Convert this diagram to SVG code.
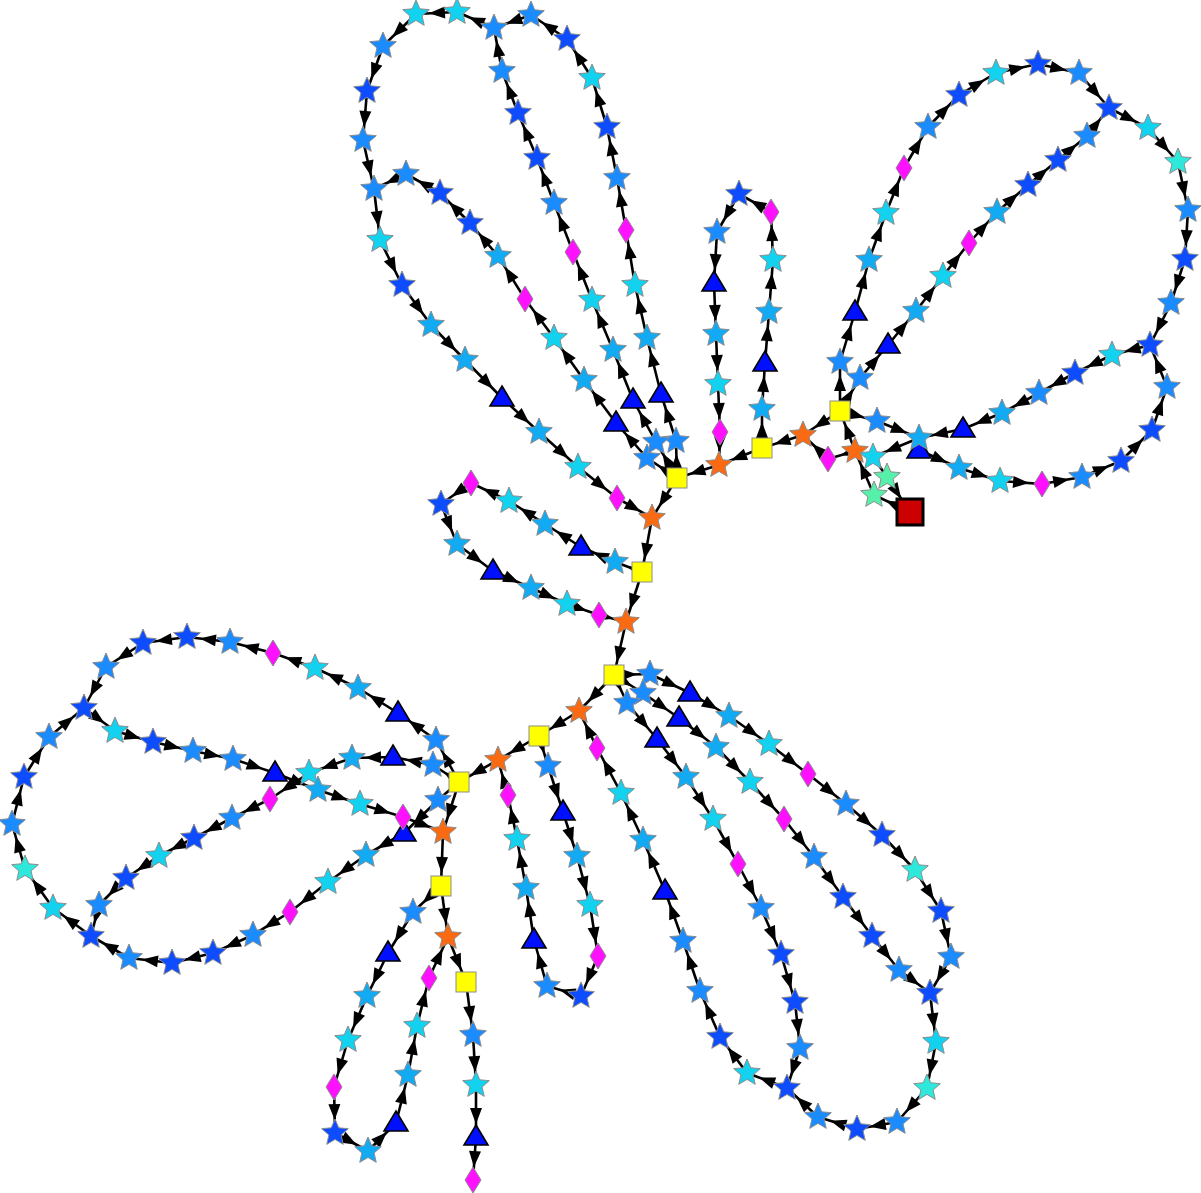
<svg xmlns="http://www.w3.org/2000/svg" xmlns:xlink="http://www.w3.org/1999/xlink" width="1201" height="1193" viewBox="0 0 1201 1193">
<style>
.e line{stroke:#000;stroke-width:2.6;marker-end:url(#ah)}
.e line.r{marker-end:url(#ah2)}
.s1{fill:#1a8cff}.s2{fill:#0d4dff}.s3{fill:#12d2f0}.s4{fill:#12aaf2}.s5{fill:#2ee8dc}.s6{fill:#55f0aa}.so{fill:#fa6a12}
</style>
<defs>
<marker id="ah" viewBox="0 0 16 12" refX="29" refY="6" markerWidth="16" markerHeight="12" markerUnits="userSpaceOnUse" orient="auto" overflow="visible"><path d="M0,0L16,6L0,12z" fill="#000"/></marker>
<marker id="ah2" viewBox="0 0 16 12" refX="32" refY="6" markerWidth="16" markerHeight="12" markerUnits="userSpaceOnUse" orient="auto" overflow="visible"><path d="M0,0L16,6L0,12z" fill="#000"/></marker>
<path id="st" d="M0,-14L3.76,-5.18L13.31,-4.33L6.09,1.98L8.23,11.33L0,6.4L-8.23,11.33L-6.09,1.98L-13.31,-4.33L-3.76,-5.18Z" stroke="#8c8c8c" stroke-width="1"/>
<path id="dm" d="M0,-13L8,0L0,13L-8,0Z" fill="#ff10ff" stroke="#8c8c8c" stroke-width="1"/>
<path id="tr" d="M0,-12L12,8L-12,8Z" fill="#0010ff" stroke="#000" stroke-width="1.6"/>
<rect id="sq" x="-10" y="-10" width="20" height="20" fill="#ffff00" stroke="#8c8c8c" stroke-width="1"/>
</defs>
<rect width="1201" height="1193" fill="#fff"/>
<g id="connectors" class="e">
<line x1="677" y1="478" x2="647" y2="458"/>
<line x1="677" y1="478" x2="656" y2="442"/>
<line x1="677" y1="478" x2="676" y2="441"/>
<line x1="677" y1="478" x2="652" y2="518"/>
<line x1="676" y1="441" x2="661" y2="394"/>
<line x1="661" y1="394" x2="647" y2="338"/>
<line x1="647" y1="338" x2="635" y2="285"/>
<line x1="635" y1="285" x2="626" y2="230"/>
<line x1="626" y1="230" x2="617" y2="178"/>
<line x1="617" y1="178" x2="607" y2="127"/>
<line x1="607" y1="127" x2="592" y2="78"/>
<line x1="592" y1="78" x2="567" y2="39"/>
<line x1="567" y1="39" x2="531" y2="15"/>
<line x1="531" y1="15" x2="494" y2="28"/>
<line x1="656" y1="442" x2="633" y2="400"/>
<line x1="633" y1="400" x2="613" y2="350"/>
<line x1="613" y1="350" x2="592" y2="300"/>
<line x1="592" y1="300" x2="573" y2="252"/>
<line x1="573" y1="252" x2="554" y2="203"/>
<line x1="554" y1="203" x2="537" y2="158"/>
<line x1="537" y1="158" x2="518" y2="113"/>
<line x1="518" y1="113" x2="502" y2="71"/>
<line x1="502" y1="71" x2="494" y2="28"/>
<line x1="494" y1="28" x2="457" y2="12"/>
<line x1="457" y1="12" x2="416" y2="14"/>
<line x1="416" y1="14" x2="383" y2="46"/>
<line x1="383" y1="46" x2="367" y2="91"/>
<line x1="367" y1="91" x2="363" y2="140"/>
<line x1="363" y1="140" x2="374" y2="189"/>
<line x1="374" y1="189" x2="380" y2="240"/>
<line x1="380" y1="240" x2="402" y2="285"/>
<line x1="402" y1="285" x2="431" y2="325"/>
<line x1="431" y1="325" x2="465" y2="360"/>
<line x1="465" y1="360" x2="502" y2="398"/>
<line x1="502" y1="398" x2="539" y2="432"/>
<line x1="539" y1="432" x2="578" y2="467"/>
<line x1="578" y1="467" x2="617" y2="498"/>
<line x1="617" y1="498" x2="652" y2="518"/>
<line x1="647" y1="458" x2="616" y2="423"/>
<line x1="616" y1="423" x2="584" y2="380"/>
<line x1="584" y1="380" x2="554" y2="338"/>
<line x1="554" y1="338" x2="525" y2="299"/>
<line x1="525" y1="299" x2="498" y2="256"/>
<line x1="498" y1="256" x2="470" y2="223"/>
<line x1="470" y1="223" x2="440" y2="193"/>
<line x1="440" y1="193" x2="406" y2="174"/>
<line x1="406" y1="174" x2="374" y2="189"/>
<line x1="652" y1="518" x2="642" y2="572"/>
<line x1="719" y1="465" x2="677" y2="478"/>
<line x1="720" y1="432" x2="719" y2="465"/>
<line x1="718" y1="384" x2="720" y2="432"/>
<line x1="716" y1="334" x2="718" y2="384"/>
<line x1="714" y1="283" x2="716" y2="334"/>
<line x1="717" y1="232" x2="714" y2="283"/>
<line x1="739" y1="194" x2="717" y2="232"/>
<line x1="771" y1="212" x2="739" y2="194"/>
<line x1="773" y1="260" x2="771" y2="212"/>
<line x1="769" y1="312" x2="773" y2="260"/>
<line x1="765" y1="363" x2="769" y2="312"/>
<line x1="762" y1="409" x2="765" y2="363"/>
<line x1="762" y1="448" x2="762" y2="409"/>
<line x1="762" y1="448" x2="719" y2="465"/>
<line x1="803" y1="435" x2="762" y2="448"/>
<line x1="840" y1="411" x2="803" y2="435"/>
<line x1="828" y1="459" x2="803" y2="435"/>
<line x1="855" y1="451" x2="828" y2="459"/>
<line x1="855" y1="451" x2="840" y2="411"/>
<line x1="874" y1="495" x2="855" y2="451"/>
<line x1="910" y1="512" x2="874" y2="495"/>
<line class="r" x1="887" y1="477" x2="910" y2="512"/>
<line x1="873" y1="457" x2="887" y2="477"/>
<line x1="919" y1="438" x2="873" y2="457"/>
<line x1="877" y1="421" x2="919" y2="438"/>
<line x1="840" y1="411" x2="877" y2="421"/>
<line x1="963" y1="429" x2="919" y2="438"/>
<line x1="840" y1="411" x2="840" y2="362"/>
<line x1="840" y1="411" x2="860" y2="378"/>
<line x1="840" y1="362" x2="855" y2="312"/>
<line x1="855" y1="312" x2="869" y2="260"/>
<line x1="869" y1="260" x2="886" y2="213"/>
<line x1="886" y1="213" x2="904" y2="168"/>
<line x1="904" y1="168" x2="928" y2="127"/>
<line x1="928" y1="127" x2="959" y2="95"/>
<line x1="959" y1="95" x2="996" y2="73"/>
<line x1="996" y1="73" x2="1038" y2="64"/>
<line x1="1038" y1="64" x2="1079" y2="73"/>
<line x1="1079" y1="73" x2="1109" y2="108"/>
<line x1="1109" y1="108" x2="1148" y2="128"/>
<line x1="1148" y1="128" x2="1178" y2="162"/>
<line x1="1178" y1="162" x2="1188" y2="210"/>
<line x1="1188" y1="210" x2="1185" y2="259"/>
<line x1="1185" y1="259" x2="1171" y2="303"/>
<line x1="1171" y1="303" x2="1150" y2="345"/>
<line x1="1150" y1="345" x2="1112" y2="355"/>
<line x1="1112" y1="355" x2="1075" y2="373"/>
<line x1="1075" y1="373" x2="1039" y2="393"/>
<line x1="1039" y1="393" x2="1002" y2="413"/>
<line x1="1002" y1="413" x2="963" y2="429"/>
<line x1="860" y1="378" x2="888" y2="345"/>
<line x1="888" y1="345" x2="916" y2="311"/>
<line x1="916" y1="311" x2="943" y2="276"/>
<line x1="943" y1="276" x2="969" y2="243"/>
<line x1="969" y1="243" x2="997" y2="212"/>
<line x1="997" y1="212" x2="1028" y2="185"/>
<line x1="1028" y1="185" x2="1058" y2="160"/>
<line x1="1058" y1="160" x2="1087" y2="136"/>
<line x1="1087" y1="136" x2="1109" y2="108"/>
<line x1="919" y1="450" x2="959" y2="468"/>
<line x1="959" y1="468" x2="1000" y2="481"/>
<line x1="1000" y1="481" x2="1042" y2="484"/>
<line x1="1042" y1="484" x2="1082" y2="477"/>
<line x1="1082" y1="477" x2="1121" y2="461"/>
<line x1="1121" y1="461" x2="1152" y2="430"/>
<line x1="1152" y1="430" x2="1167" y2="387"/>
<line x1="1167" y1="387" x2="1150" y2="345"/>
<line x1="642" y1="572" x2="615" y2="562"/>
<line x1="615" y1="562" x2="581" y2="547"/>
<line x1="581" y1="547" x2="545" y2="524"/>
<line x1="545" y1="524" x2="509" y2="501"/>
<line x1="509" y1="501" x2="471" y2="483"/>
<line x1="471" y1="483" x2="441" y2="504"/>
<line x1="441" y1="504" x2="457" y2="544"/>
<line x1="457" y1="544" x2="493" y2="571"/>
<line x1="493" y1="571" x2="531" y2="588"/>
<line x1="531" y1="588" x2="567" y2="604"/>
<line x1="567" y1="604" x2="599" y2="615"/>
<line x1="599" y1="615" x2="626" y2="622"/>
<line x1="642" y1="572" x2="626" y2="622"/>
<line x1="626" y1="622" x2="614" y2="675"/>
<line x1="614" y1="675" x2="579" y2="711"/>
<line x1="614" y1="675" x2="650" y2="674"/>
<line x1="614" y1="675" x2="643" y2="693"/>
<line x1="614" y1="675" x2="627" y2="703"/>
<line x1="650" y1="674" x2="690" y2="693"/>
<line x1="690" y1="693" x2="729" y2="716"/>
<line x1="729" y1="716" x2="769" y2="744"/>
<line x1="769" y1="744" x2="808" y2="774"/>
<line x1="808" y1="774" x2="846" y2="804"/>
<line x1="846" y1="804" x2="882" y2="835"/>
<line x1="882" y1="835" x2="915" y2="870"/>
<line x1="915" y1="870" x2="941" y2="911"/>
<line x1="941" y1="911" x2="951" y2="957"/>
<line x1="951" y1="957" x2="930" y2="993"/>
<line x1="643" y1="693" x2="679" y2="718"/>
<line x1="679" y1="718" x2="716" y2="747"/>
<line x1="716" y1="747" x2="750" y2="782"/>
<line x1="750" y1="782" x2="784" y2="819"/>
<line x1="784" y1="819" x2="814" y2="857"/>
<line x1="814" y1="857" x2="843" y2="897"/>
<line x1="843" y1="897" x2="872" y2="936"/>
<line x1="872" y1="936" x2="899" y2="970"/>
<line x1="899" y1="970" x2="930" y2="993"/>
<line x1="930" y1="993" x2="936" y2="1042"/>
<line x1="936" y1="1042" x2="927" y2="1088"/>
<line x1="927" y1="1088" x2="897" y2="1122"/>
<line x1="897" y1="1122" x2="857" y2="1129"/>
<line x1="857" y1="1129" x2="818" y2="1117"/>
<line x1="818" y1="1117" x2="787" y2="1088"/>
<line x1="787" y1="1088" x2="747" y2="1073"/>
<line x1="747" y1="1073" x2="720" y2="1037"/>
<line x1="720" y1="1037" x2="700" y2="991"/>
<line x1="700" y1="991" x2="683" y2="941"/>
<line x1="683" y1="941" x2="665" y2="891"/>
<line x1="665" y1="891" x2="643" y2="840"/>
<line x1="643" y1="840" x2="621" y2="793"/>
<line x1="621" y1="793" x2="597" y2="748"/>
<line x1="597" y1="748" x2="579" y2="711"/>
<line x1="627" y1="703" x2="657" y2="739"/>
<line x1="657" y1="739" x2="686" y2="777"/>
<line x1="686" y1="777" x2="713" y2="819"/>
<line x1="713" y1="819" x2="738" y2="864"/>
<line x1="738" y1="864" x2="761" y2="908"/>
<line x1="761" y1="908" x2="781" y2="954"/>
<line x1="781" y1="954" x2="795" y2="1002"/>
<line x1="795" y1="1002" x2="800" y2="1048"/>
<line x1="800" y1="1048" x2="787" y2="1088"/>
<line x1="579" y1="711" x2="539" y2="736"/>
<line x1="539" y1="736" x2="498" y2="760"/>
<line x1="539" y1="736" x2="548" y2="766"/>
<line x1="548" y1="766" x2="563" y2="812"/>
<line x1="563" y1="812" x2="577" y2="856"/>
<line x1="577" y1="856" x2="590" y2="905"/>
<line x1="590" y1="905" x2="598" y2="956"/>
<line x1="598" y1="956" x2="581" y2="996"/>
<line x1="581" y1="996" x2="547" y2="986"/>
<line x1="547" y1="986" x2="534" y2="940"/>
<line x1="534" y1="940" x2="526" y2="888"/>
<line x1="526" y1="888" x2="517" y2="839"/>
<line x1="517" y1="839" x2="508" y2="795"/>
<line x1="508" y1="795" x2="498" y2="760"/>
<line x1="498" y1="760" x2="459" y2="782"/>
<line x1="459" y1="782" x2="436" y2="740"/>
<line x1="459" y1="782" x2="433" y2="765"/>
<line x1="459" y1="782" x2="438" y2="800"/>
<line x1="459" y1="782" x2="443" y2="832"/>
<line x1="436" y1="740" x2="398" y2="713"/>
<line x1="398" y1="713" x2="358" y2="688"/>
<line x1="358" y1="688" x2="315" y2="668"/>
<line x1="315" y1="668" x2="273" y2="653"/>
<line x1="273" y1="653" x2="230" y2="642"/>
<line x1="230" y1="642" x2="187" y2="637"/>
<line x1="187" y1="637" x2="143" y2="643"/>
<line x1="143" y1="643" x2="106" y2="667"/>
<line x1="106" y1="667" x2="84" y2="708"/>
<line x1="84" y1="708" x2="115" y2="731"/>
<line x1="115" y1="731" x2="153" y2="742"/>
<line x1="153" y1="742" x2="193" y2="751"/>
<line x1="193" y1="751" x2="233" y2="759"/>
<line x1="233" y1="759" x2="275" y2="773"/>
<line x1="275" y1="773" x2="318" y2="790"/>
<line x1="318" y1="790" x2="360" y2="804"/>
<line x1="360" y1="804" x2="403" y2="817"/>
<line x1="403" y1="817" x2="443" y2="832"/>
<line x1="433" y1="765" x2="393" y2="757"/>
<line x1="393" y1="757" x2="352" y2="758"/>
<line x1="352" y1="758" x2="309" y2="773"/>
<line x1="309" y1="773" x2="270" y2="799"/>
<line x1="270" y1="799" x2="232" y2="818"/>
<line x1="232" y1="818" x2="194" y2="838"/>
<line x1="194" y1="838" x2="159" y2="856"/>
<line x1="159" y1="856" x2="126" y2="878"/>
<line x1="126" y1="878" x2="99" y2="905"/>
<line x1="99" y1="905" x2="91" y2="936"/>
<line x1="438" y1="800" x2="404" y2="833"/>
<line x1="404" y1="833" x2="366" y2="855"/>
<line x1="366" y1="855" x2="328" y2="882"/>
<line x1="328" y1="882" x2="290" y2="912"/>
<line x1="290" y1="912" x2="253" y2="935"/>
<line x1="253" y1="935" x2="213" y2="953"/>
<line x1="213" y1="953" x2="172" y2="963"/>
<line x1="172" y1="963" x2="129" y2="958"/>
<line x1="129" y1="958" x2="91" y2="936"/>
<line x1="91" y1="936" x2="53" y2="908"/>
<line x1="53" y1="908" x2="25" y2="869"/>
<line x1="25" y1="869" x2="12" y2="824"/>
<line x1="12" y1="824" x2="24" y2="777"/>
<line x1="24" y1="777" x2="49" y2="737"/>
<line x1="49" y1="737" x2="84" y2="708"/>
<line x1="443" y1="832" x2="441" y2="886"/>
<line x1="441" y1="886" x2="413" y2="912"/>
<line x1="413" y1="912" x2="388" y2="953"/>
<line x1="388" y1="953" x2="367" y2="996"/>
<line x1="367" y1="996" x2="348" y2="1040"/>
<line x1="348" y1="1040" x2="334" y2="1087"/>
<line x1="334" y1="1087" x2="335" y2="1133"/>
<line x1="335" y1="1133" x2="368" y2="1151"/>
<line x1="368" y1="1151" x2="396" y2="1123"/>
<line x1="396" y1="1123" x2="408" y2="1075"/>
<line x1="408" y1="1075" x2="417" y2="1026"/>
<line x1="417" y1="1026" x2="429" y2="978"/>
<line x1="429" y1="978" x2="448" y2="937"/>
<line x1="441" y1="886" x2="448" y2="937"/>
<line x1="448" y1="937" x2="466" y2="982"/>
<line x1="466" y1="982" x2="473" y2="1035"/>
<line x1="473" y1="1035" x2="476" y2="1085"/>
<line x1="476" y1="1085" x2="476" y2="1137"/>
<line x1="476" y1="1137" x2="473" y2="1180"/>
</g>
<g id="nodes">
<g id="n1"><use href="#st" class="s3" x="416" y="14"/></g>
<g id="n2"><use href="#st" class="s3" x="457" y="12"/></g>
<g id="n3"><use href="#st" class="s1" x="494" y="28"/></g>
<g id="n4"><use href="#st" class="s1" x="531" y="15"/></g>
<g id="n5"><use href="#st" class="s2" x="567" y="39"/></g>
<g id="n6"><use href="#st" class="s3" x="592" y="78"/></g>
<g id="n7"><use href="#st" class="s2" x="607" y="127"/></g>
<g id="n8"><use href="#st" class="s1" x="617" y="178"/></g>
<g id="n9"><use href="#dm" x="626" y="230"/></g>
<g id="n10"><use href="#st" class="s3" x="635" y="285"/></g>
<g id="n11"><use href="#st" class="s4" x="647" y="338"/></g>
<g id="n12"><use href="#tr" x="661" y="394"/></g>
<g id="n13"><use href="#st" class="s1" x="676" y="441"/></g>
<g id="n14"><use href="#st" class="s1" x="383" y="46"/></g>
<g id="n15"><use href="#st" class="s2" x="367" y="91"/></g>
<g id="n16"><use href="#st" class="s1" x="363" y="140"/></g>
<g id="n17"><use href="#st" class="s1" x="374" y="189"/></g>
<g id="n18"><use href="#st" class="s3" x="380" y="240"/></g>
<g id="n19"><use href="#st" class="s2" x="402" y="285"/></g>
<g id="n20"><use href="#st" class="s4" x="431" y="325"/></g>
<g id="n21"><use href="#st" class="s4" x="465" y="360"/></g>
<g id="n22"><use href="#tr" x="502" y="398"/></g>
<g id="n23"><use href="#st" class="s4" x="539" y="432"/></g>
<g id="n24"><use href="#st" class="s3" x="578" y="467"/></g>
<g id="n25"><use href="#dm" x="617" y="498"/></g>
<g id="n26"><use href="#st" class="so" x="652" y="518"/></g>
<g id="n27"><use href="#st" class="s1" x="406" y="174"/></g>
<g id="n28"><use href="#st" class="s2" x="440" y="193"/></g>
<g id="n29"><use href="#st" class="s2" x="470" y="223"/></g>
<g id="n30"><use href="#st" class="s4" x="498" y="256"/></g>
<g id="n31"><use href="#dm" x="525" y="299"/></g>
<g id="n32"><use href="#st" class="s3" x="554" y="338"/></g>
<g id="n33"><use href="#st" class="s4" x="584" y="380"/></g>
<g id="n34"><use href="#tr" x="616" y="423"/></g>
<g id="n35"><use href="#st" class="s1" x="647" y="458"/></g>
<g id="n36"><use href="#st" class="s1" x="502" y="71"/></g>
<g id="n37"><use href="#st" class="s2" x="518" y="113"/></g>
<g id="n38"><use href="#st" class="s2" x="537" y="158"/></g>
<g id="n39"><use href="#st" class="s1" x="554" y="203"/></g>
<g id="n40"><use href="#dm" x="573" y="252"/></g>
<g id="n41"><use href="#st" class="s3" x="592" y="300"/></g>
<g id="n42"><use href="#st" class="s4" x="613" y="350"/></g>
<g id="n43"><use href="#tr" x="633" y="400"/></g>
<g id="n44"><use href="#st" class="s1" x="656" y="442"/></g>
<g id="n45"><use href="#sq" x="677" y="478"/></g>
<g id="n46"><use href="#st" class="s2" x="739" y="194"/></g>
<g id="n47"><use href="#dm" x="771" y="212"/></g>
<g id="n48"><use href="#st" class="s1" x="717" y="232"/></g>
<g id="n49"><use href="#tr" x="714" y="283"/></g>
<g id="n50"><use href="#st" class="s4" x="716" y="334"/></g>
<g id="n51"><use href="#st" class="s3" x="718" y="384"/></g>
<g id="n52"><use href="#dm" x="720" y="432"/></g>
<g id="n53"><use href="#st" class="so" x="719" y="465"/></g>
<g id="n54"><use href="#st" class="s3" x="773" y="260"/></g>
<g id="n55"><use href="#st" class="s4" x="769" y="312"/></g>
<g id="n56"><use href="#tr" x="765" y="363"/></g>
<g id="n57"><use href="#st" class="s4" x="762" y="409"/></g>
<g id="n58"><use href="#sq" x="762" y="448"/></g>
<g id="n59"><use href="#st" class="so" x="803" y="435"/></g>
<g id="n60"><use href="#sq" x="840" y="411"/></g>
<g id="n61"><use href="#dm" x="828" y="459"/></g>
<g id="n62"><use href="#st" class="so" x="855" y="451"/></g>
<g id="n63"><use href="#st" class="s3" x="873" y="457"/></g>
<g id="n64"><use href="#st" class="s6" x="887" y="477"/></g>
<g id="n65"><use href="#st" class="s6" x="874" y="495"/></g>
<g id="n66"><rect x="897" y="499" width="26" height="26" fill="#cc0000" stroke="#000" stroke-width="3"/></g>
<g id="n67"><use href="#st" class="s1" x="877" y="421"/></g>
<g id="n68"><use href="#tr" x="919" y="450"/></g>
<g id="n69"><use href="#st" class="s4" x="919" y="438"/></g>
<g id="n70"><use href="#st" class="s1" x="840" y="362"/></g>
<g id="n71"><use href="#tr" x="855" y="312"/></g>
<g id="n72"><use href="#st" class="s4" x="869" y="260"/></g>
<g id="n73"><use href="#st" class="s3" x="886" y="213"/></g>
<g id="n74"><use href="#dm" x="904" y="168"/></g>
<g id="n75"><use href="#st" class="s1" x="928" y="127"/></g>
<g id="n76"><use href="#st" class="s2" x="959" y="95"/></g>
<g id="n77"><use href="#st" class="s3" x="996" y="73"/></g>
<g id="n78"><use href="#st" class="s2" x="1038" y="64"/></g>
<g id="n79"><use href="#st" class="s1" x="1079" y="73"/></g>
<g id="n80"><use href="#st" class="s2" x="1109" y="108"/></g>
<g id="n81"><use href="#st" class="s3" x="1148" y="128"/></g>
<g id="n82"><use href="#st" class="s5" x="1178" y="162"/></g>
<g id="n83"><use href="#st" class="s1" x="1188" y="210"/></g>
<g id="n84"><use href="#st" class="s2" x="1185" y="259"/></g>
<g id="n85"><use href="#st" class="s1" x="1171" y="303"/></g>
<g id="n86"><use href="#st" class="s2" x="1150" y="345"/></g>
<g id="n87"><use href="#st" class="s3" x="1112" y="355"/></g>
<g id="n88"><use href="#st" class="s2" x="1075" y="373"/></g>
<g id="n89"><use href="#st" class="s1" x="1039" y="393"/></g>
<g id="n90"><use href="#st" class="s4" x="1002" y="413"/></g>
<g id="n91"><use href="#tr" x="963" y="429"/></g>
<g id="n92"><use href="#st" class="s1" x="860" y="378"/></g>
<g id="n93"><use href="#tr" x="888" y="345"/></g>
<g id="n94"><use href="#st" class="s4" x="916" y="311"/></g>
<g id="n95"><use href="#st" class="s3" x="943" y="276"/></g>
<g id="n96"><use href="#dm" x="969" y="243"/></g>
<g id="n97"><use href="#st" class="s4" x="997" y="212"/></g>
<g id="n98"><use href="#st" class="s2" x="1028" y="185"/></g>
<g id="n99"><use href="#st" class="s2" x="1058" y="160"/></g>
<g id="n100"><use href="#st" class="s1" x="1087" y="136"/></g>
<g id="n101"><use href="#st" class="s4" x="959" y="468"/></g>
<g id="n102"><use href="#st" class="s3" x="1000" y="481"/></g>
<g id="n103"><use href="#dm" x="1042" y="484"/></g>
<g id="n104"><use href="#st" class="s1" x="1082" y="477"/></g>
<g id="n105"><use href="#st" class="s2" x="1121" y="461"/></g>
<g id="n106"><use href="#st" class="s2" x="1152" y="430"/></g>
<g id="n107"><use href="#st" class="s1" x="1167" y="387"/></g>
<g id="n108"><use href="#dm" x="471" y="483"/></g>
<g id="n109"><use href="#st" class="s2" x="441" y="504"/></g>
<g id="n110"><use href="#st" class="s4" x="457" y="544"/></g>
<g id="n111"><use href="#tr" x="493" y="571"/></g>
<g id="n112"><use href="#st" class="s4" x="531" y="588"/></g>
<g id="n113"><use href="#st" class="s3" x="567" y="604"/></g>
<g id="n114"><use href="#dm" x="599" y="615"/></g>
<g id="n115"><use href="#st" class="so" x="626" y="622"/></g>
<g id="n116"><use href="#st" class="s3" x="509" y="501"/></g>
<g id="n117"><use href="#st" class="s4" x="545" y="524"/></g>
<g id="n118"><use href="#tr" x="581" y="547"/></g>
<g id="n119"><use href="#st" class="s4" x="615" y="562"/></g>
<g id="n120"><use href="#sq" x="642" y="572"/></g>
<g id="n121"><use href="#sq" x="614" y="675"/></g>
<g id="n122"><use href="#st" class="so" x="579" y="711"/></g>
<g id="n123"><use href="#sq" x="539" y="736"/></g>
<g id="n124"><use href="#st" class="so" x="498" y="760"/></g>
<g id="n125"><use href="#sq" x="459" y="782"/></g>
<g id="n126"><use href="#st" class="s1" x="650" y="674"/></g>
<g id="n127"><use href="#tr" x="690" y="693"/></g>
<g id="n128"><use href="#st" class="s4" x="729" y="716"/></g>
<g id="n129"><use href="#st" class="s3" x="769" y="744"/></g>
<g id="n130"><use href="#dm" x="808" y="774"/></g>
<g id="n131"><use href="#st" class="s1" x="846" y="804"/></g>
<g id="n132"><use href="#st" class="s2" x="882" y="835"/></g>
<g id="n133"><use href="#st" class="s5" x="915" y="870"/></g>
<g id="n134"><use href="#st" class="s2" x="941" y="911"/></g>
<g id="n135"><use href="#st" class="s1" x="951" y="957"/></g>
<g id="n136"><use href="#st" class="s2" x="930" y="993"/></g>
<g id="n137"><use href="#st" class="s1" x="643" y="693"/></g>
<g id="n138"><use href="#tr" x="679" y="718"/></g>
<g id="n139"><use href="#st" class="s4" x="716" y="747"/></g>
<g id="n140"><use href="#st" class="s3" x="750" y="782"/></g>
<g id="n141"><use href="#dm" x="784" y="819"/></g>
<g id="n142"><use href="#st" class="s1" x="814" y="857"/></g>
<g id="n143"><use href="#st" class="s2" x="843" y="897"/></g>
<g id="n144"><use href="#st" class="s2" x="872" y="936"/></g>
<g id="n145"><use href="#st" class="s1" x="899" y="970"/></g>
<g id="n146"><use href="#st" class="s3" x="936" y="1042"/></g>
<g id="n147"><use href="#st" class="s5" x="927" y="1088"/></g>
<g id="n148"><use href="#st" class="s1" x="897" y="1122"/></g>
<g id="n149"><use href="#st" class="s2" x="857" y="1129"/></g>
<g id="n150"><use href="#st" class="s1" x="818" y="1117"/></g>
<g id="n151"><use href="#st" class="s2" x="787" y="1088"/></g>
<g id="n152"><use href="#st" class="s3" x="747" y="1073"/></g>
<g id="n153"><use href="#st" class="s2" x="720" y="1037"/></g>
<g id="n154"><use href="#st" class="s1" x="700" y="991"/></g>
<g id="n155"><use href="#st" class="s1" x="683" y="941"/></g>
<g id="n156"><use href="#tr" x="665" y="891"/></g>
<g id="n157"><use href="#st" class="s4" x="643" y="840"/></g>
<g id="n158"><use href="#st" class="s3" x="621" y="793"/></g>
<g id="n159"><use href="#dm" x="597" y="748"/></g>
<g id="n160"><use href="#st" class="s1" x="627" y="703"/></g>
<g id="n161"><use href="#tr" x="657" y="739"/></g>
<g id="n162"><use href="#st" class="s4" x="686" y="777"/></g>
<g id="n163"><use href="#st" class="s3" x="713" y="819"/></g>
<g id="n164"><use href="#dm" x="738" y="864"/></g>
<g id="n165"><use href="#st" class="s1" x="761" y="908"/></g>
<g id="n166"><use href="#st" class="s2" x="781" y="954"/></g>
<g id="n167"><use href="#st" class="s2" x="795" y="1002"/></g>
<g id="n168"><use href="#st" class="s1" x="800" y="1048"/></g>
<g id="n169"><use href="#st" class="s1" x="548" y="766"/></g>
<g id="n170"><use href="#tr" x="563" y="812"/></g>
<g id="n171"><use href="#st" class="s4" x="577" y="856"/></g>
<g id="n172"><use href="#st" class="s3" x="590" y="905"/></g>
<g id="n173"><use href="#dm" x="598" y="956"/></g>
<g id="n174"><use href="#st" class="s2" x="581" y="996"/></g>
<g id="n175"><use href="#st" class="s1" x="547" y="986"/></g>
<g id="n176"><use href="#tr" x="534" y="940"/></g>
<g id="n177"><use href="#st" class="s4" x="526" y="888"/></g>
<g id="n178"><use href="#st" class="s3" x="517" y="839"/></g>
<g id="n179"><use href="#dm" x="508" y="795"/></g>
<g id="n180"><use href="#st" class="s1" x="436" y="740"/></g>
<g id="n181"><use href="#tr" x="398" y="713"/></g>
<g id="n182"><use href="#st" class="s4" x="358" y="688"/></g>
<g id="n183"><use href="#st" class="s3" x="315" y="668"/></g>
<g id="n184"><use href="#dm" x="273" y="653"/></g>
<g id="n185"><use href="#st" class="s1" x="230" y="642"/></g>
<g id="n186"><use href="#st" class="s2" x="187" y="637"/></g>
<g id="n187"><use href="#st" class="s2" x="143" y="643"/></g>
<g id="n188"><use href="#st" class="s1" x="106" y="667"/></g>
<g id="n189"><use href="#st" class="s2" x="84" y="708"/></g>
<g id="n190"><use href="#st" class="s3" x="115" y="731"/></g>
<g id="n191"><use href="#st" class="s2" x="153" y="742"/></g>
<g id="n192"><use href="#st" class="s1" x="193" y="751"/></g>
<g id="n193"><use href="#st" class="s1" x="233" y="759"/></g>
<g id="n194"><use href="#tr" x="275" y="773"/></g>
<g id="n195"><use href="#st" class="s1" x="433" y="765"/></g>
<g id="n196"><use href="#tr" x="393" y="757"/></g>
<g id="n197"><use href="#st" class="s4" x="352" y="758"/></g>
<g id="n198"><use href="#st" class="s3" x="309" y="773"/></g>
<g id="n199"><use href="#st" class="s4" x="318" y="790"/></g>
<g id="n200"><use href="#st" class="s3" x="360" y="804"/></g>
<g id="n201"><use href="#tr" x="404" y="833"/></g>
<g id="n202"><use href="#dm" x="403" y="817"/></g>
<g id="n203"><use href="#st" class="so" x="443" y="832"/></g>
<g id="n204"><use href="#dm" x="270" y="799"/></g>
<g id="n205"><use href="#st" class="s1" x="232" y="818"/></g>
<g id="n206"><use href="#st" class="s2" x="194" y="838"/></g>
<g id="n207"><use href="#st" class="s3" x="159" y="856"/></g>
<g id="n208"><use href="#st" class="s2" x="126" y="878"/></g>
<g id="n209"><use href="#st" class="s1" x="99" y="905"/></g>
<g id="n210"><use href="#st" class="s2" x="91" y="936"/></g>
<g id="n211"><use href="#st" class="s3" x="53" y="908"/></g>
<g id="n212"><use href="#st" class="s5" x="25" y="869"/></g>
<g id="n213"><use href="#st" class="s1" x="12" y="824"/></g>
<g id="n214"><use href="#st" class="s2" x="24" y="777"/></g>
<g id="n215"><use href="#st" class="s1" x="49" y="737"/></g>
<g id="n216"><use href="#st" class="s1" x="438" y="800"/></g>
<g id="n217"><use href="#st" class="s4" x="366" y="855"/></g>
<g id="n218"><use href="#st" class="s3" x="328" y="882"/></g>
<g id="n219"><use href="#dm" x="290" y="912"/></g>
<g id="n220"><use href="#st" class="s1" x="253" y="935"/></g>
<g id="n221"><use href="#st" class="s2" x="213" y="953"/></g>
<g id="n222"><use href="#st" class="s2" x="172" y="963"/></g>
<g id="n223"><use href="#st" class="s1" x="129" y="958"/></g>
<g id="n224"><use href="#sq" x="441" y="886"/></g>
<g id="n225"><use href="#st" class="so" x="448" y="937"/></g>
<g id="n226"><use href="#sq" x="466" y="982"/></g>
<g id="n227"><use href="#st" class="s1" x="413" y="912"/></g>
<g id="n228"><use href="#tr" x="388" y="953"/></g>
<g id="n229"><use href="#st" class="s4" x="367" y="996"/></g>
<g id="n230"><use href="#st" class="s3" x="348" y="1040"/></g>
<g id="n231"><use href="#dm" x="334" y="1087"/></g>
<g id="n232"><use href="#st" class="s2" x="335" y="1133"/></g>
<g id="n233"><use href="#st" class="s4" x="368" y="1151"/></g>
<g id="n234"><use href="#tr" x="396" y="1123"/></g>
<g id="n235"><use href="#st" class="s4" x="408" y="1075"/></g>
<g id="n236"><use href="#st" class="s3" x="417" y="1026"/></g>
<g id="n237"><use href="#dm" x="429" y="978"/></g>
<g id="n238"><use href="#st" class="s1" x="473" y="1035"/></g>
<g id="n239"><use href="#st" class="s3" x="476" y="1085"/></g>
<g id="n240"><use href="#tr" x="476" y="1137"/></g>
<g id="n241"><use href="#dm" x="473" y="1180"/></g>
</g>
</svg>
